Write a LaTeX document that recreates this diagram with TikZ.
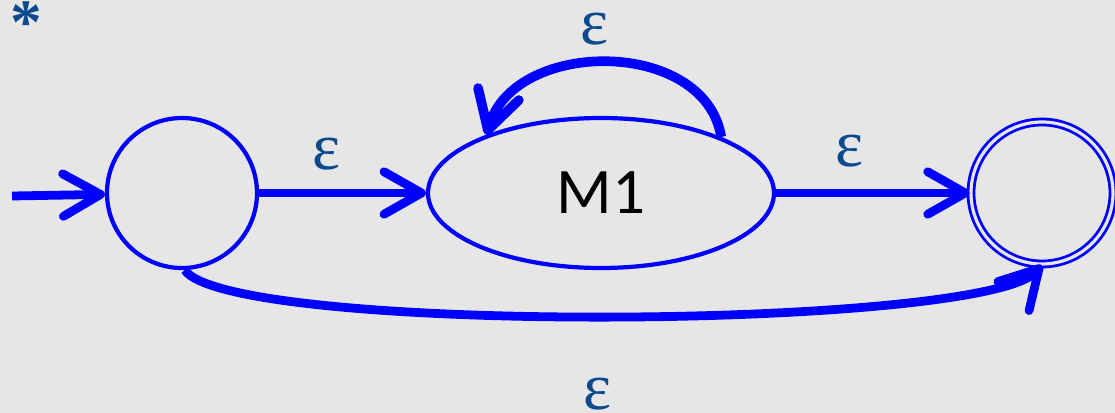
\documentclass[tikz,border=0pt]{standalone}
\usepackage{fontspec}
\setmainfont{Carlito}
\newfontfamily\epsfont{Liberation Serif}
\usetikzlibrary{arrows.meta,shapes.geometric}
\definecolor{StateBlue}{HTML}{0000FF}
\definecolor{LabelBlue}{HTML}{0B4A8C}
\definecolor{PaperGray}{HTML}{E6E6E6}

\begin{document}
\begin{tikzpicture}[
    state/.style={circle, draw=StateBlue, line width=2.4pt, minimum size=3.0cm, inner sep=0pt},
    accept/.style={circle, draw=StateBlue, double=PaperGray, line width=1.6pt, double distance=1.8pt, minimum size=2.84cm, inner sep=0pt},
    machine/.style={ellipse, draw=StateBlue, line width=2.4pt, minimum width=6.92cm, minimum height=3.0cm, inner sep=0pt, font=\fontsize{37}{40}\selectfont},
    eps/.style={text=LabelBlue, inner sep=0pt, font=\epsfont\fontsize{38}{40}\selectfont},
    arrow/.style={-{Straight Barb[length=0.75cm, width=0.85cm, round]}, line width=5pt, StateBlue}
  ]
    \fill[PaperGray] (0,0) rectangle (22.3,-8.26);
    \useasboundingbox (0,0) rectangle (22.3,-8.26);

    \node[eps, font=\epsfont\bfseries\fontsize{36}{40}\selectfont] (star) at (0.52,-0.45) {*};

    \coordinate (init) at (0.24,-3.92);
    \node[state] (q0) at (3.64,-3.86) {};
    \node[machine] (m1) at (12.02,-3.86) {M1};
    \node[accept] (qf) at (20.84,-3.86) {};

    \node[eps] (e1) at (6.54,-3.08) {ε};
    \node[eps] (e2) at (17.0,-3.02) {ε};
    \node[eps] (e3) at (11.9,-0.58) {ε};
    \node[eps] (e4) at (11.96,-7.88) {ε};

    \draw[arrow] (init) -- (q0);
    \draw[arrow] (q0) -- (m1);
    \draw[arrow] (m1) -- (qf);
    \draw[arrow, line width=5.5pt] (m1.25) .. controls (14.1,-0.76) and (10.3,-0.76) .. (m1.153);
    \draw[arrow] (q0.272) .. controls (4.6,-6.7) and (19.64,-6.6) .. (qf.south);
  \end{tikzpicture}
\end{document}
